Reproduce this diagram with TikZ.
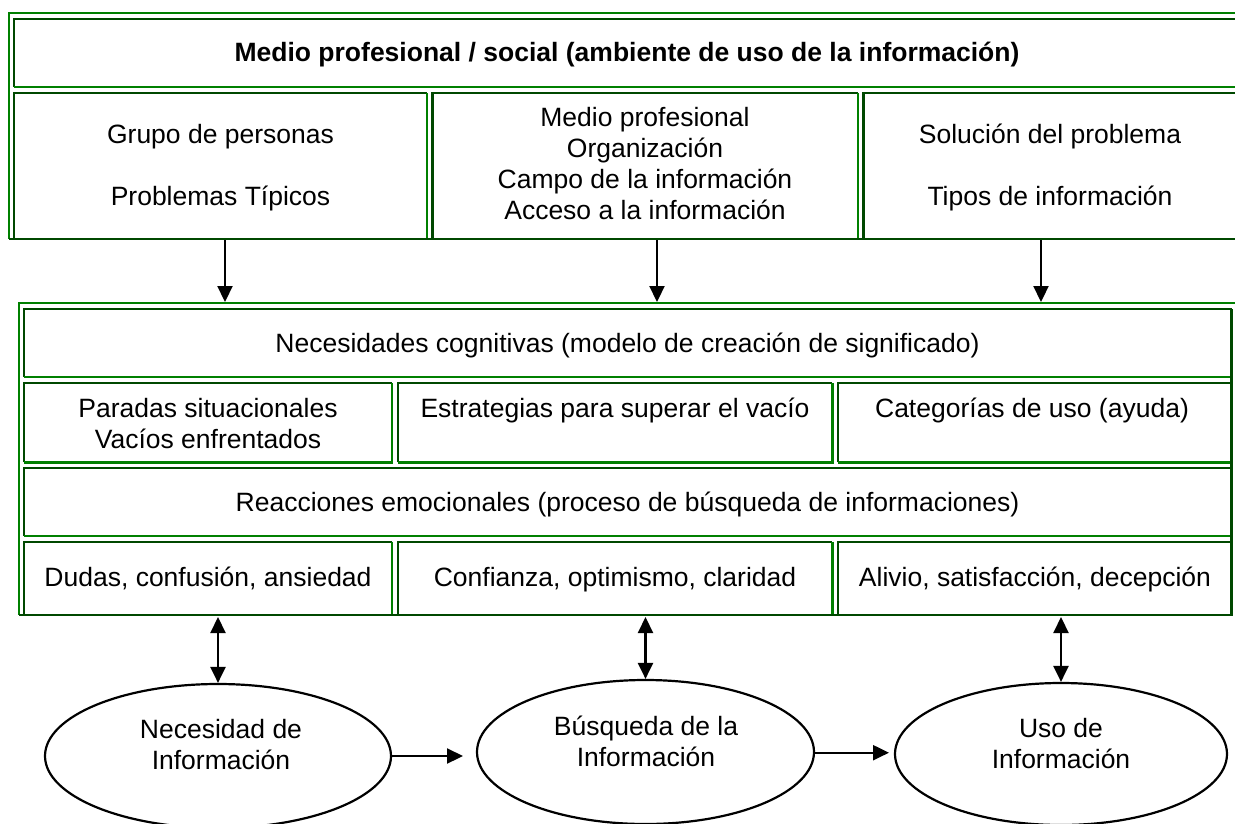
\documentclass[tikz,border=0pt]{standalone}
\usepackage{fontspec}
\setmainfont{Liberation Sans}
\usetikzlibrary{shapes.geometric,arrows.meta}
\definecolor{lgreen}{RGB}{0,128,0}
\definecolor{dgreen}{RGB}{0,72,0}
\newcommand\tst{\rule[-9.3pt]{0pt}{31pt}}
\newcommand\wcell[4]{%
  \draw[dk] (#1,#4) -- (#1,#2) -- (#3,#2);
  \draw[lt] (#3,#2) -- (#3,#4) -- (#1,#4);}
\begin{document}
\begin{tikzpicture}[x=1pt,y=-1pt,
  lt/.style={draw=lgreen,line width=2.4pt},
  dk/.style={draw=dgreen,line width=2.4pt},
  txt/.style={font=\fontsize{26.5}{31}\selectfont, align=center, inner sep=0pt, anchor=north},
  arr/.style={line width=2.2pt, -{Triangle[length=16pt,width=15pt]}},
  darr/.style={line width=2.2pt, {Triangle[length=16pt,width=15pt]}-{Triangle[length=16pt,width=15pt]}},
  ell/.style={ellipse, draw, line width=2.2pt, inner sep=0pt, minimum height=144pt}]
\clip (0,0) rectangle (1235,823);
\fill[white] (0,0) rectangle (1235,823);
% ---------- table 1 ----------
\wcell{14}{19}{1238}{87}
\wcell{14}{93}{426.7}{239}
\wcell{432.3}{93}{857.7}{239}
\wcell{863.3}{93}{1238}{239}
\draw[lt] (1240,13) -- (9,13) -- (9,239);
\draw[dk] (9,239) -- (1240,239);
\node[txt] (title) at (627,61.7-21.7) {\bfseries\tst Medio profesional / social (ambiente de uso de la información)};
\node[txt] (c11) at (220.5,143-21.7) {\tst Grupo de personas\\\tst\\\tst Problemas Típicos};
\node[txt] (c12) at (645,126-21.7) {\tst Medio profesional\\\tst Organización\\\tst Campo de la información\\\tst Acceso a la información};
\node[txt] (c13) at (1050,143-21.7) {\tst Solución del problema\\\tst\\\tst Tipos de información};
% ---------- table 2 ----------
\wcell{24}{309}{1231.5}{377}
\wcell{24}{383}{392}{462.3}
\wcell{397.7}{383}{832.3}{462.3}
\wcell{837.7}{383}{1231.5}{462.3}
\wcell{24}{468}{1231.5}{536}
\wcell{24}{541.7}{392}{615}
\wcell{397.7}{541.7}{832.3}{615}
\wcell{837.7}{541.7}{1231.5}{615}
\draw[lt] (1240,302.7) -- (19,302.7) -- (19,615);
\draw[dk] (19,615) -- (1231.5,615) -- (1231.5,309);
\node[txt] (r1) at (627.5,352-21.7) {\tst Necesidades cognitivas (modelo de creación de significado)};
\node[txt] (r21) at (208,417-21.7) {\tst Paradas situacionales\\\tst Vacíos enfrentados};
\node[txt] (r22) at (615,417-21.7) {\tst Estrategias para superar el vacío};
\node[txt] (r23) at (1032,417-21.7) {\tst Categorías de uso (ayuda)};
\node[txt] (r3) at (627.5,511-21.7) {\tst Reacciones emocionales (proceso de búsqueda de informaciones)};
\node[txt] (r41) at (208,586-21.7) {\tst Dudas, confusión, ansiedad};
\node[txt] (r42) at (615,586-21.7) {\tst Confianza, optimismo, claridad};
\node[txt] (r43) at (1035,586-21.7) {\tst Alivio, satisfacción, decepción};
% ---------- arrows table1 -> table2 ----------
\coordinate (a1s) at (225,240);
\coordinate (a1e) at (225,302);
\coordinate (a2s) at (657,240);
\coordinate (a2e) at (657,302);
\coordinate (a3s) at (1041,240);
\coordinate (a3e) at (1041,302);
\draw[arr] (a1s) -- (a1e);
\draw[arr] (a2s) -- (a2e);
\draw[arr] (a3s) -- (a3e);
% ---------- ellipses ----------
\node[ell, minimum width=346pt] (e1) at (218,756) {};
\node[ell, minimum width=337pt] (e2) at (645.5,752) {};
\node[ell, minimum width=332pt, minimum height=142pt] (e3) at (1061,754) {};
\node[txt] (e1t) at (221,738-21.7) {\tst Necesidad de\\\tst Información};
\node[txt] (e2t) at (646,735-21.7) {\tst Búsqueda de la\\\tst Información};
\node[txt] (e3t) at (1061,737-21.7) {\tst Uso de\\\tst Información};
% ---------- double arrows ----------
\coordinate (d1) at (218,617);
\coordinate (d2) at (645.5,617);
\coordinate (d3) at (1061,617);
\draw[darr] (d1) -- (e1.north);
\draw[darr] (d2) -- (e2.north);
\draw[darr] (d3) -- (e3.north);
% ---------- horizontal arrows ----------
\coordinate (h1) at (463,756);
\coordinate (h2) at (889,752.7);
\draw[arr] (e1.east) -- (h1);
\draw[arr] (e2.east |- h2) -- (h2);
\end{tikzpicture}
\end{document}
